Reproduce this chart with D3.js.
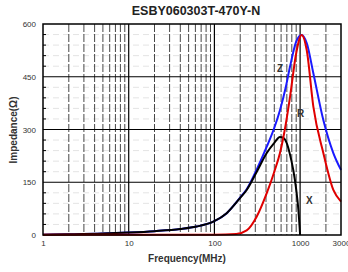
<!DOCTYPE html>
<html>
<head>
<meta charset="utf-8">
<script src="https://cdn.jsdelivr.net/npm/d3@7"></script>
<style>
  body { margin: 0; background: #fff; }
  text { font-family: "Liberation Sans", Arial, sans-serif; }
</style>
</head>
<body>
<div id="chart"></div>
<script>
// data (frequency in MHz, impedance in ohm)
const freqZ = [1, 2, 5, 10, 20, 40, 62, 97, 139, 199, 238, 311, 408, 500, 582, 680, 763, 900, 1042, 1194, 1427, 1866, 2442, 3000];
const valZ  = [1, 2, 4, 7, 11, 17, 24, 38, 62, 106, 130, 186, 251, 305, 355, 420, 479, 550, 569, 546, 460, 327, 233, 185];

const freqR = [1, 10, 100, 180, 238, 311, 408, 500, 582, 680, 763, 900, 1042, 1194, 1427, 1866, 2442, 3000];
const valR  = [1, 1, 1, 3, 13, 52, 119, 180, 233, 315, 393, 517, 569, 526, 365, 233, 128, 95];

const freqX = [1, 2, 5, 10, 20, 40, 62, 97, 139, 199, 238, 311, 408, 500, 582, 640, 697, 760, 832, 900, 955, 1000];
const valX  = [1, 2, 4, 7, 11, 17, 24, 38, 62, 105, 128, 179, 233, 262, 279, 276, 262, 230, 185, 130, 71, 0];

const xTicks = [1, 10, 100, 1000, 3000];
const yTicks = [0, 150, 300, 450, 600];

const width = 348,
    height = 272,
    margin = { top: 24, right: 7, bottom: 37, left: 43 };

const svg = d3.select("#chart")
    .append("svg")
    .attr("width", width)
    .attr("height", height);

// scales
const x = d3.scaleLog()
    .domain([1, 3000])
    .range([margin.left, width - margin.right]);
const y = d3.scaleLinear()
    .domain([0, 600])
    .range([height - margin.bottom, margin.top]);

// minor horizontal grid (faint dashes)
svg.append("g")
    .selectAll("line")
    .data(d3.range(30, 600, 30).filter(v => v % 150 !== 0))
    .enter().append("line")
    .attr("x1", margin.left).attr("x2", width - margin.right)
    .attr("y1", d => y(d)).attr("y2", d => y(d))
    .attr("stroke", "#e4e4e4")
    .attr("stroke-dasharray", "6,4");

// vertical grid: minor dashed, majors solid
const minorX = [];
[1, 10, 100, 1000].forEach(dec => {
    for (let k = 2; k <= 9; k++) if (dec * k < 3000) minorX.push(dec * k);
});
svg.append("g")
    .selectAll("line")
    .data(minorX)
    .enter().append("line")
    .attr("x1", d => x(d)).attr("x2", d => x(d))
    .attr("y1", margin.top).attr("y2", height - margin.bottom)
    .attr("stroke", "#333")
    .attr("stroke-width", 0.9)
    .attr("stroke-dasharray", "8,2");
svg.append("g")
    .selectAll("line")
    .data([10, 100, 1000])
    .enter().append("line")
    .attr("x1", d => x(d)).attr("x2", d => x(d))
    .attr("y1", margin.top).attr("y2", height - margin.bottom)
    .attr("stroke", "#000")
    .attr("stroke-width", 1.2);

// horizontal major grid
svg.append("g")
    .selectAll("line")
    .data([150, 300, 450])
    .enter().append("line")
    .attr("x1", margin.left).attr("x2", width - margin.right)
    .attr("y1", d => y(d)).attr("y2", d => y(d))
    .attr("stroke", "#000")
    .attr("stroke-width", 1.2);

// curves
const line = d3.line()
    .x(d => x(d[0]))
    .y(d => y(d[1]))
    .curve(d3.curveMonotoneX);

svg.append("path")
    .datum(d3.zip(freqZ, valZ))
    .attr("d", line)
    .attr("fill", "none")
    .attr("stroke", "#1a1aff")
    .attr("stroke-width", 2);
svg.append("path")
    .datum(d3.zip(freqX, valX))
    .attr("d", line)
    .attr("fill", "none")
    .attr("stroke", "#000")
    .attr("stroke-width", 2);
svg.append("path")
    .datum(d3.zip(freqR, valR))
    .attr("d", line)
    .attr("fill", "none")
    .attr("stroke", "#e00000")
    .attr("stroke-width", 2);

// frame
svg.append("rect")
    .attr("x", margin.left).attr("y", margin.top)
    .attr("width", width - margin.right - margin.left)
    .attr("height", height - margin.bottom - margin.top)
    .attr("fill", "none")
    .attr("stroke", "#000")
    .attr("stroke-width", 1.5);

// axes
const xAxis = d3.axisBottom(x)
    .tickValues(xTicks)
    .tickFormat(d3.format("d"))
    .tickSize(0)
    .tickPadding(5);
svg.append("g")
    .attr("transform", `translate(0, ${height - margin.bottom})`)
    .call(xAxis)
    .call(g => g.select(".domain").remove())
    .selectAll("text")
    .attr("font-size", 8)
    .attr("fill", "#333");

const yAxis = d3.axisLeft(y)
    .tickValues(yTicks)
    .tickSize(0)
    .tickPadding(7);
svg.append("g")
    .attr("transform", `translate(${margin.left}, 0)`)
    .call(yAxis)
    .call(g => g.select(".domain").remove())
    .selectAll("text")
    .attr("font-size", 8)
    .attr("fill", "#333");

// minor ticks on left edge
svg.append("g")
    .selectAll("line")
    .data(d3.range(30, 600, 30).filter(v => v % 150 !== 0))
    .enter().append("line")
    .attr("x1", margin.left).attr("x2", margin.left + 3)
    .attr("y1", d => y(d)).attr("y2", d => y(d))
    .attr("stroke", "#000");

// titles
svg.append("text")
    .attr("x", 196).attr("y", 15)
    .attr("text-anchor", "middle")
    .attr("font-size", 12.5)
    .attr("font-weight", "bold")
    .attr("fill", "#222")
    .text("ESBY060303T-470Y-N");
svg.append("text")
    .attr("x", 187).attr("y", 262)
    .attr("text-anchor", "middle")
    .attr("font-size", 10)
    .attr("font-weight", "bold")
    .attr("fill", "#333")
    .text("Frequency(MHz)");
svg.append("text")
    .attr("transform", "translate(17, 130) rotate(-90)")
    .attr("text-anchor", "middle")
    .attr("font-size", 10)
    .attr("font-weight", "bold")
    .attr("fill", "#333")
    .text("Impedance(Ω)");

// curve labels
[["Z", 277, 72], ["R", 297, 117], ["X", 306, 204]].forEach(([t, lx, ly]) => {
    svg.append("text")
        .attr("x", lx).attr("y", ly)
        .attr("font-size", 10)
        .attr("font-weight", "bold")
        .attr("fill", "#333")
        .text(t);
});
</script>
</body>
</html>
